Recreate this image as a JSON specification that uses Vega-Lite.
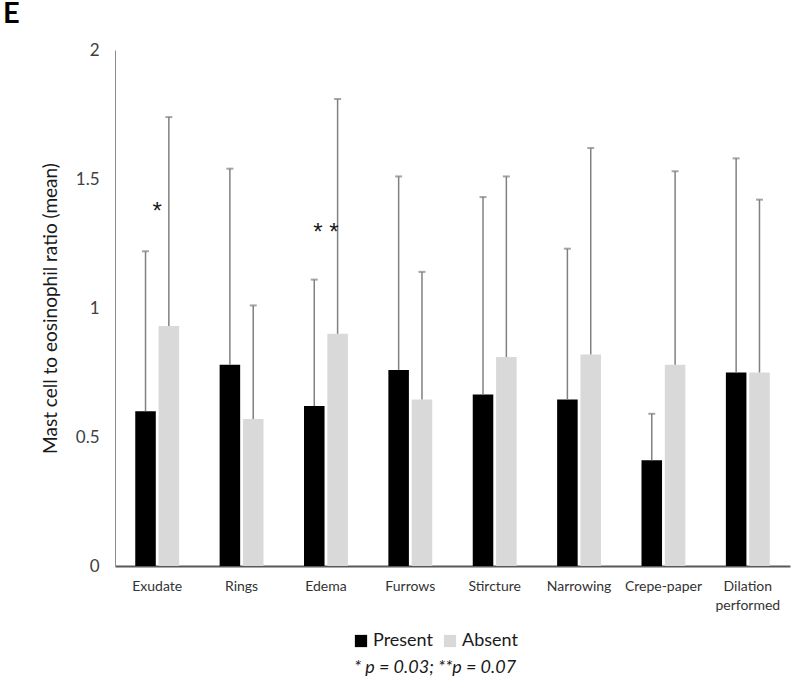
{
  "$schema": "https://vega.github.io/schema/vega-lite/v6.json",
  "autosize": {"type": "none"},
  "width": 675,
  "height": 516,
  "padding": {"left": 115, "top": 50, "right": 10, "bottom": 119},
  "background": "white",
  "title": {"text": "E", "anchor": "start", "frame": "group", "dx": -112, "dy": 3, "offset": 15, "fontSize": 29, "fontWeight": "bold", "font": "Lato", "color": "#000000"},
  "config": {
    "font": "Lato",
    "view": {"stroke": null}
  },
  "datasets": {
    "bars": [
      {"feature": "Exudate", "group": "Present", "mean": 0.60, "upper": 1.22},
      {"feature": "Exudate", "group": "Absent", "mean": 0.93, "upper": 1.74},
      {"feature": "Rings", "group": "Present", "mean": 0.78, "upper": 1.54},
      {"feature": "Rings", "group": "Absent", "mean": 0.57, "upper": 1.01},
      {"feature": "Edema", "group": "Present", "mean": 0.62, "upper": 1.11},
      {"feature": "Edema", "group": "Absent", "mean": 0.90, "upper": 1.81},
      {"feature": "Furrows", "group": "Present", "mean": 0.76, "upper": 1.51},
      {"feature": "Furrows", "group": "Absent", "mean": 0.645, "upper": 1.14},
      {"feature": "Stircture", "group": "Present", "mean": 0.665, "upper": 1.43},
      {"feature": "Stircture", "group": "Absent", "mean": 0.81, "upper": 1.51},
      {"feature": "Narrowing", "group": "Present", "mean": 0.645, "upper": 1.23},
      {"feature": "Narrowing", "group": "Absent", "mean": 0.82, "upper": 1.62},
      {"feature": "Crepe-paper", "group": "Present", "mean": 0.41, "upper": 0.59},
      {"feature": "Crepe-paper", "group": "Absent", "mean": 0.78, "upper": 1.53},
      {"feature": "Dilation performed", "group": "Present", "mean": 0.75, "upper": 1.58},
      {"feature": "Dilation performed", "group": "Absent", "mean": 0.75, "upper": 1.42}
    ],
    "stars": [
      {"feature": "Exudate", "label": "*", "y": 1.345},
      {"feature": "Edema", "label": "* *", "y": 1.265}
    ]
  },
  "encoding": {
    "x": {
      "field": "feature", "type": "nominal",
      "sort": ["Exudate", "Rings", "Edema", "Furrows", "Stircture", "Narrowing", "Crepe-paper", "Dilation performed"],
      "scale": {"paddingInner": 0.48, "paddingOuter": 0.24},
      "axis": {"title": null, "labelAngle": 0, "ticks": false, "labelPadding": 13, "labelFontSize": 14, "labelColor": "#333333", "domainColor": "#595959", "domainWidth": 2, "labelExpr": "split(datum.label, ' ')", "labelLineHeight": 19}
    }
  },
  "layer": [
    {
      "data": {"name": "bars"},
      "mark": {"type": "bar"},
      "encoding": {
        "xOffset": {"field": "group", "type": "nominal", "sort": ["Present", "Absent"], "scale": {"paddingInner": 0.12}},
        "y": {
          "field": "mean", "type": "quantitative",
          "scale": {"domain": [0, 2]},
          "axis": {"title": "Mast cell to eosinophil ratio (mean)", "values": [0, 0.5, 1, 1.5, 2], "labelExpr": "'' + datum.value", "grid": false, "ticks": false, "labelPadding": 16, "labelFontSize": 17, "labelColor": "#404040", "domainColor": "#8c8c8c", "titleFontSize": 19, "titleFontWeight": "normal", "titleColor": "#1a1a1a", "titlePadding": 15}
        },
        "color": {
          "field": "group", "type": "nominal",
          "sort": ["Present", "Absent"],
          "scale": {"domain": ["Present", "Absent"], "range": ["#000000", "#d9d9d9"]},
          "legend": {"orient": "none", "legendX": 237, "legendY": 582, "direction": "horizontal", "title": "* p = 0.03; **p = 0.07", "titleOrient": "bottom", "titleAnchor": "middle", "titleFontStyle": "italic", "titleFontWeight": "normal", "titleFontSize": 18, "titleColor": "#1a1a1a", "titlePadding": 9, "titleLimit": 300, "symbolType": "square", "symbolSize": 150, "symbolStrokeWidth": 0, "labelFontSize": 18, "labelColor": "#1a1a1a", "columnPadding": 8, "labelOffset": 3}
        }
      }
    },
    {
      "data": {"name": "bars"},
      "mark": {"type": "rule", "color": "#808080", "strokeWidth": 1.5},
      "encoding": {
        "xOffset": {"field": "group", "type": "nominal", "sort": ["Present", "Absent"]},
        "y": {"field": "mean", "type": "quantitative"},
        "y2": {"field": "upper"}
      }
    },
    {
      "data": {"name": "bars"},
      "mark": {"type": "tick", "orient": "horizontal", "color": "#808080", "size": 7, "thickness": 2},
      "encoding": {
        "xOffset": {"field": "group", "type": "nominal", "sort": ["Present", "Absent"]},
        "y": {"field": "upper", "type": "quantitative"}
      }
    },
    {
      "data": {"name": "stars"},
      "mark": {"type": "text", "font": "Liberation Sans", "fontSize": 24, "color": "#1a1a1a", "baseline": "alphabetic"},
      "encoding": {
        "y": {"field": "y", "type": "quantitative"},
        "text": {"field": "label"}
      }
    }
  ]
}
